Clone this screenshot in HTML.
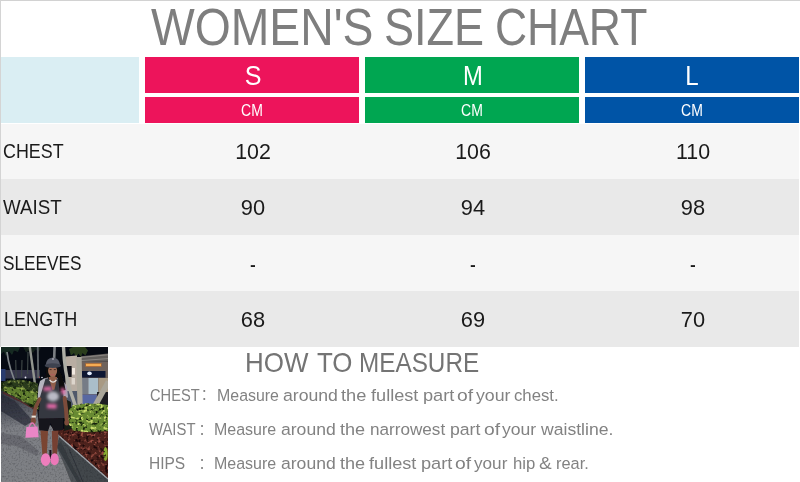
<!DOCTYPE html>
<html lang="en"><head><meta charset="utf-8"><title>Women's Size Chart</title>
<style>
html,body{margin:0;padding:0;}
body{width:800px;height:482px;overflow:hidden;background:#fff;position:relative;font-family:"Liberation Sans", "Noto Sans CJK SC", sans-serif;}
#wrap{position:absolute;left:0;top:0;width:800px;height:482px;overflow:hidden;background:#fff;}
.b{position:absolute;}
.t{position:absolute;white-space:pre;line-height:1;transform-origin:0 0;}
</style></head><body><div id="wrap">
<div class="b" style="left:0px;top:0px;width:800px;height:1px;background:#d2d2d2"></div>
<div class="b" style="left:0px;top:0px;width:1px;height:347px;background:#d4d4d4"></div>
<div class="b" style="left:1px;top:57px;width:138px;height:66px;background:#daeef3"></div>
<div class="b" style="left:145px;top:57px;width:214px;height:36px;background:#ed145b"></div>
<div class="b" style="left:145px;top:97px;width:214px;height:26px;background:#ed145b"></div>
<div class="b" style="left:365px;top:57px;width:214px;height:36px;background:#00a651"></div>
<div class="b" style="left:365px;top:97px;width:214px;height:26px;background:#00a651"></div>
<div class="b" style="left:585px;top:57px;width:214px;height:36px;background:#0054a6"></div>
<div class="b" style="left:585px;top:97px;width:214px;height:26px;background:#0054a6"></div>
<div class="b" style="left:1px;top:124px;width:798px;height:55px;background:#f6f6f6"></div>
<div class="b" style="left:1px;top:179px;width:798px;height:56px;background:#e9e9e9"></div>
<div class="b" style="left:1px;top:235px;width:798px;height:56px;background:#f6f6f6"></div>
<div class="b" style="left:1px;top:291px;width:798px;height:56px;background:#e9e9e9"></div>
<div class="b" style="left:1px;top:346px;width:107px;height:1px;background:#fbfbfb"></div>
<svg class="b" style="left:1px;top:347px" width="107" height="135" viewBox="0 0 107 135">
<defs>
<filter id="bl" x="-5%" y="-5%" width="110%" height="110%"><feGaussianBlur stdDeviation="0.6"/></filter>
<filter id="bl2" x="-30%" y="-30%" width="160%" height="160%"><feGaussianBlur stdDeviation="1.6"/></filter>
<filter id="nd" x="0" y="0" width="100%" height="100%" color-interpolation-filters="sRGB">
<feTurbulence type="fractalNoise" baseFrequency="0.28" numOctaves="2" seed="11"/>
<feColorMatrix type="matrix" values="0 0 0 0 0.07 0 0 0 0 0.12 0 0 0 0 0.04 -5 0 0 0 2.35"/>
<feGaussianBlur stdDeviation="0.4"/>
</filter>
<filter id="nl" x="0" y="0" width="100%" height="100%" color-interpolation-filters="sRGB">
<feTurbulence type="fractalNoise" baseFrequency="0.3" numOctaves="2" seed="23"/>
<feColorMatrix type="matrix" values="0 0 0 0 0.78 0 0 0 0 0.86 0 0 0 0 0.42 5 0 0 0 -2.7"/>
<feGaussianBlur stdDeviation="0.4"/>
</filter>
<filter id="md" x="0" y="0" width="100%" height="100%" color-interpolation-filters="sRGB">
<feTurbulence type="fractalNoise" baseFrequency="0.25" numOctaves="2" seed="5"/>
<feColorMatrix type="matrix" values="0 0 0 0 0.1 0 0 0 0 0.03 0 0 0 0 0.04 -5 0 0 0 2.4"/>
<feGaussianBlur stdDeviation="0.4"/>
</filter>
<filter id="ml" x="0" y="0" width="100%" height="100%" color-interpolation-filters="sRGB">
<feTurbulence type="fractalNoise" baseFrequency="0.3" numOctaves="2" seed="31"/>
<feColorMatrix type="matrix" values="0 0 0 0 0.6 0 0 0 0 0.3 0 0 0 0 0.26 5 0 0 0 -2.75"/>
<feGaussianBlur stdDeviation="0.4"/>
</filter>
<filter id="wn" x="0" y="0" width="100%" height="100%" color-interpolation-filters="sRGB">
<feTurbulence type="fractalNoise" baseFrequency="0.55" numOctaves="2" seed="9"/>
<feColorMatrix type="matrix" values="0 0 0 0 0.1 0 0 0 0 0.1 0 0 0 0 0.12 -2.5 0 0 0 1.3"/>
</filter>
<clipPath id="b1"><path d="M0,35 10,32 22,32.5 37,36 38,63 30,60 18,52.5 5,45.5 0,43.5Z"/></clipPath>
<clipPath id="b2"><path d="M67,76 68,62 72,58 85,56 100,56.5 107,57.5 107,84.5 90,85.5 72,84Z"/></clipPath>
<clipPath id="mu"><path d="M57,83 72,84 90,85.5 107,84.5 107,131 58,88Z"/></clipPath>
<clipPath id="cp"><rect x="0" y="0" width="107" height="135"/></clipPath>
<clipPath id="wk"><path d="M0,43 18,52 34,61 58,88 107,131.5 107,135 0,135Z"/></clipPath>
<linearGradient id="walk" x1="0" y1="0" x2="0.25" y2="1"><stop offset="0" stop-color="#2c2f3a"/><stop offset="0.2" stop-color="#50535c"/><stop offset="0.42" stop-color="#7d7f85"/><stop offset="1" stop-color="#7e8084"/></linearGradient>
</defs>
<g clip-path="url(#cp)">
<rect x="0" y="0" width="107" height="135" fill="#060a13"/>
<g filter="url(#bl)">
<polygon points="0,0 19,0 17,5 13,3.5 11,8 8,4 5,9 3,4.5 0,7" fill="#182a22"/>
<polygon points="22,0 40,0 38,4.5 34.5,2.5 32,6 29,3 25,5.5" fill="#15231c"/>
<polygon points="68,2 72,0 84,0 87,3.5 84.5,8.5 81.5,6 80,10 77.5,6.5 75,10.5 73,6 70,8.5" fill="#2a3e1e"/>
<rect x="3" y="23" width="36" height="8.5" fill="#34364a"/>
<rect x="0" y="22" width="4.5" height="12" fill="#2a3a6e"/>
<circle cx="24.5" cy="30.5" r="0.9" fill="#e8e8f0"/><circle cx="41" cy="30.5" r="0.8" fill="#e0e0ea"/><circle cx="38.3" cy="30.3" r="0.7" fill="#c05050"/>
<path d="M14.7,13L15.2,31M21,13L20.5,30M27,5L26.5,27" stroke="#3c4444" stroke-width="1.2" fill="none"/>
<path d="M6,5Q8,22 16.5,40" stroke="#80868a" stroke-width="1.7" fill="none"/>
<path d="M28.8,0L34,37" stroke="#92968f" stroke-width="2.4" fill="none"/>
<path d="M36.8,0L37.2,31" stroke="#5c6266" stroke-width="1.9" fill="none"/>
<path d="M53.6,0L53.2,11" stroke="#7c8084" stroke-width="2.6" fill="none"/>
<polygon points="64.5,9.5 76,8.5 76,60 64.5,60" fill="#b8ada2"/>
<polygon points="80,9.2 107,6.4 107,14.5 80,15" fill="#625e5c"/>
<path d="M80,10.4L107,7.8M80,13.6L107,11.6" stroke="#8e8a86" stroke-width="0.9" fill="none"/>
<rect x="80" y="14.5" width="27" height="45" fill="#6e625c"/>
<rect x="84.2" y="16" width="16.6" height="4" fill="#b86a2c" opacity="0.7"/>
<rect x="85" y="16.8" width="15" height="2.3" fill="#f4ac52"/>
<rect x="81" y="24" width="23.5" height="6.6" fill="#0a1530"/>
<ellipse cx="88.5" cy="26.4" rx="2.3" ry="1.8" fill="#e4eeff"/>
<rect x="81" y="31" width="6.4" height="16" fill="#767c86"/>
<rect x="87.4" y="31" width="9.8" height="16" fill="#aabeca"/>
<rect x="97.5" y="31" width="9.5" height="14" fill="#a89a84"/>
<rect x="65" y="19" width="5.6" height="11" fill="#0e1018"/>
<rect x="71" y="21" width="3" height="6.6" fill="#f0e8e0"/>
<rect x="70.6" y="31" width="3.4" height="6.5" fill="#ddd5cc"/>
<rect x="64.5" y="44" width="12" height="16" fill="#50586a"/>
<rect x="80.7" y="47.5" width="15" height="11" fill="#5868a2"/>
<rect x="96" y="45" width="11" height="16" fill="#1a1e24"/>
<path d="M62.5,0Q63.5,25 69,43L74.5,59" stroke="#aeaea6" stroke-width="3.4" fill="none"/>
<path d="M78,10L79,59" stroke="#aca89c" stroke-width="5.3" fill="none"/>
<path d="M107.5,34.5L94,59" stroke="#aaa69a" stroke-width="5.6" fill="none"/>
<polygon points="0,43 18,52 34,61 58,88 107,131.5 107,135 0,135" fill="url(#walk)"/>
<polygon points="0,47 14,54 32,74 24,79 0,64" fill="#262a36" opacity="0.7"/>
<polygon points="0,86 20,89 38,104 36,109 15,99 0,97" fill="#4a4c52" opacity="0.4"/>
<polygon points="58,89 107,132 107,135 76,135 63,112 56,100" fill="#42464c"/>
<path d="M68,102L82,135" stroke="#2a2e34" stroke-width="0.8" fill="none"/>
<polygon points="57,82 107,81 107,131 58,88" fill="#4e201c"/>
<ellipse cx="104.5" cy="107" rx="2.2" ry="7" fill="#86aa30"/>
<path d="M58,89L107,132" stroke="#a2a6aa" stroke-width="1.4" fill="none"/>
<polygon points="0,35.5 10,32.5 22,33 37,36.5 38,63 30,60 18,52.5 5,45.5 0,43.5" fill="#2a3b1b"/>
<polygon points="2,40.5 18,40 36,46 36,60 18,51 4,45" fill="#5f7d2e"/>
<path d="M2,45.5L18,53.5L34,62.5" stroke="#562a2a" stroke-width="1.4" fill="none"/>
<polygon points="64,52 70,55 70,82 63,84" fill="#151b13"/>
<polygon points="68,63 72,58.5 85,56.5 100,57 107,58 107,84 90,85 72,83.5 67,75" fill="#678a31"/>
</g>
<g clip-path="url(#b1)"><rect x="0" y="0" width="107" height="135" filter="url(#nd)"/><rect x="0" y="0" width="107" height="135" filter="url(#nl)" opacity="0.5"/></g>
<g clip-path="url(#b2)"><rect x="0" y="0" width="107" height="135" filter="url(#nd)"/><rect x="0" y="0" width="107" height="135" filter="url(#nl)"/></g>
<g clip-path="url(#mu)"><rect x="0" y="0" width="107" height="135" filter="url(#md)"/><rect x="0" y="0" width="107" height="135" filter="url(#ml)"/></g>
<g clip-path="url(#wk)"><rect x="0" y="0" width="107" height="135" filter="url(#wn)" opacity="0.28"/></g>
<g filter="url(#bl)">
<polygon points="55,99 60,95 72,120 80,135 70,135 62,115" fill="#2e3036" opacity="0.6"/>
<path d="M45,21Q44.2,30 43.5,38L58,40Q60,33 58.5,24Q57,15 51.5,15Q46,15 45,21Z" fill="#0c0a0e"/>
<polygon points="43,31.5 47,30.5 45,44 41.6,53.5 36.6,52.3 37.4,40 39,34" fill="#b4b4be"/>
<polygon points="56,31 61,32.5 66,39 67,50.5 62,51 59.5,42" fill="#a6a6b2"/>
<polygon points="36.3,64 62,64 62.3,83 52.5,84 49.6,76 47,84.3 38.3,83.5" fill="#16121a"/>
<polygon points="39.4,83.5 47,84 45.8,107.5 41.4,107.5" fill="#7a4432"/>
<polygon points="50.8,84 57.6,83.5 56,107 51.5,107" fill="#764030"/>
<polygon points="44.5,31.5 58,31.5 62,42 64,71 37.6,71.6 39,50 42,40" fill="#363840"/>
<polygon points="47.6,30 56.2,30 53.5,42.5 51.5,43" fill="#905e4a"/>
<rect x="49.4" y="27.5" width="5" height="5" fill="#905e4a"/>
<path d="M48.6,33Q52,37.2 55.4,33" stroke="#e4e0dc" stroke-width="1.2" fill="none"/>
<path d="M56.4,19Q61,27 63,35L64.5,43 58.5,44.5 57.5,34 55.8,25Z" fill="#0b090d"/>
</g>
<g filter="url(#bl2)" opacity="0.95">
<path d="M42.6,42L50.8,41.5" stroke="#e66aa8" stroke-width="4.2" fill="none"/>
<path d="M61,41L63.2,47.5" stroke="#e66aa8" stroke-width="3.6" fill="none"/>
<ellipse cx="52" cy="49.5" rx="6" ry="5" fill="#c2c2ce"/>
<path d="M46,59L55.5,59.4" stroke="#e86cac" stroke-width="4.6" fill="none"/>
</g>
<g filter="url(#bl)">
<ellipse cx="51.6" cy="23.8" rx="4.5" ry="5.9" fill="#a06c56"/>
<path d="M49.6,27.6L53.4,27.6" stroke="#b05a5e" stroke-width="0.9" fill="none"/>
<path d="M48.6,22.6L50.6,22.6M52.8,22.6L54.8,22.6" stroke="#2a1a18" stroke-width="0.8" fill="none"/>
<path d="M44.6,18.6Q45,11 51.9,10.4Q58.6,11 59.2,18.6Z" fill="#565a68"/>
<circle cx="52" cy="12" r="0.8" fill="#d8d8e0"/>
<ellipse cx="51.9" cy="18.6" rx="8.2" ry="2.3" fill="#3e4250"/>
<path d="M38.6,52L34.6,60.5L32.7,70" stroke="#7c4c3a" stroke-width="3.6" stroke-linecap="round" fill="none"/>
<ellipse cx="32.3" cy="74" rx="2.6" ry="3.4" fill="#7c4c3a"/>
<path d="M30.6,69.6L34.8,69.6" stroke="#ece6de" stroke-width="2" fill="none"/>
<path d="M63.6,51L65,62L65.6,72" stroke="#7c4c3a" stroke-width="4" stroke-linecap="round" fill="none"/>
<ellipse cx="65.7" cy="75.5" rx="2.4" ry="3" fill="#7c4c3a"/>
<path d="M28,80.5Q31.2,71.5 34.6,80.5" stroke="#e078b8" stroke-width="1.3" fill="none"/>
<polygon points="25.4,80 36.6,79.5 37.6,90.2 24.4,90.7" fill="#ea86c6"/>
<rect x="48.4" y="103" width="2" height="9" fill="#1a1018"/>
<ellipse cx="44.6" cy="112.6" rx="4.8" ry="6.3" fill="#ee7ebc"/>
<ellipse cx="53.6" cy="112.2" rx="4.2" ry="6" fill="#ec78b8"/>
</g>
</g>
</svg>

<div class="t" id="t1" style="left:151.14px;top:2.91px;font-size:50.9px;color:#7e7e7e;transform:scaleX(0.9104);">WOMEN'S</div>
<div class="t" id="t2" style="left:384.13px;top:2.91px;font-size:50.9px;color:#7e7e7e;transform:scaleX(0.8849);">SIZE</div>
<div class="t" id="t3" style="left:495.02px;top:2.91px;font-size:50.9px;color:#7e7e7e;transform:scaleX(0.8736);">CHART</div>
<div class="t" id="hS" style="left:193.30px;width:120px;text-align:center;transform-origin:50% 0;top:61.90px;font-size:28px;color:#fff;transform:scaleX(0.8960);">S</div>
<div class="t" id="hM" style="left:412.95px;width:120px;text-align:center;transform-origin:50% 0;top:61.90px;font-size:28px;color:#fff;transform:scaleX(0.8500);">M</div>
<div class="t" id="hL" style="left:631.50px;width:120px;text-align:center;transform-origin:50% 0;top:61.90px;font-size:28px;color:#fff;transform:scaleX(0.8600);">L</div>
<div class="t" id="cm0" style="left:192.00px;width:120px;text-align:center;transform-origin:50% 0;top:102.94px;font-size:15.9px;color:#fff;transform:scaleX(0.8810);">CM</div>
<div class="t" id="cm1" style="left:412.00px;width:120px;text-align:center;transform-origin:50% 0;top:102.94px;font-size:15.9px;color:#fff;transform:scaleX(0.8810);">CM</div>
<div class="t" id="cm2" style="left:632.00px;width:120px;text-align:center;transform-origin:50% 0;top:102.94px;font-size:15.9px;color:#fff;transform:scaleX(0.8810);">CM</div>
<div class="t" id="r1" style="left:3.03px;top:140.79px;font-size:20.1px;color:#1a1a1a;transform:scaleX(0.8896);">CHEST</div>
<div class="t" id="r2" style="left:3.36px;top:196.79px;font-size:20.1px;color:#1a1a1a;transform:scaleX(0.9343);">WAIST</div>
<div class="t" id="r3" style="left:2.61px;top:252.79px;font-size:20.1px;color:#1a1a1a;transform:scaleX(0.8574);">SLEEVES</div>
<div class="t" id="r4" style="left:4.16px;top:308.79px;font-size:20.1px;color:#1a1a1a;transform:scaleX(0.8987);">LENGTH</div>
<div class="t" id="n00" style="left:193.20px;width:120px;text-align:center;transform-origin:50% 0;top:141.15px;font-size:22.4px;color:#1a1a1a;transform:scaleX(0.9550);">102</div>
<div class="t" id="n01" style="left:413.20px;width:120px;text-align:center;transform-origin:50% 0;top:141.15px;font-size:22.4px;color:#1a1a1a;transform:scaleX(0.9550);">106</div>
<div class="t" id="n02" style="left:633.20px;width:120px;text-align:center;transform-origin:50% 0;top:141.15px;font-size:22.4px;color:#1a1a1a;transform:scaleX(0.9550);">110</div>
<div class="t" id="n10" style="left:193.20px;width:120px;text-align:center;transform-origin:50% 0;top:197.15px;font-size:22.4px;color:#1a1a1a;transform:scaleX(0.9750);">90</div>
<div class="t" id="n11" style="left:413.20px;width:120px;text-align:center;transform-origin:50% 0;top:197.15px;font-size:22.4px;color:#1a1a1a;transform:scaleX(0.9750);">94</div>
<div class="t" id="n12" style="left:633.20px;width:120px;text-align:center;transform-origin:50% 0;top:197.15px;font-size:22.4px;color:#1a1a1a;transform:scaleX(0.9750);">98</div>
<div class="t" id="n20" style="left:193.20px;width:120px;text-align:center;transform-origin:50% 0;top:252.85px;font-size:23.1px;color:#1a1a1a;transform:scaleX(0.7500);">-</div>
<div class="t" id="n21" style="left:413.20px;width:120px;text-align:center;transform-origin:50% 0;top:252.85px;font-size:23.1px;color:#1a1a1a;transform:scaleX(0.7500);">-</div>
<div class="t" id="n22" style="left:633.20px;width:120px;text-align:center;transform-origin:50% 0;top:252.85px;font-size:23.1px;color:#1a1a1a;transform:scaleX(0.7500);">-</div>
<div class="t" id="n30" style="left:193.20px;width:120px;text-align:center;transform-origin:50% 0;top:309.15px;font-size:22.4px;color:#1a1a1a;transform:scaleX(0.9750);">68</div>
<div class="t" id="n31" style="left:413.20px;width:120px;text-align:center;transform-origin:50% 0;top:309.15px;font-size:22.4px;color:#1a1a1a;transform:scaleX(0.9750);">69</div>
<div class="t" id="n32" style="left:633.20px;width:120px;text-align:center;transform-origin:50% 0;top:309.15px;font-size:22.4px;color:#1a1a1a;transform:scaleX(0.9750);">70</div>
<div class="t" id="h1" style="left:245.38px;top:347.64px;font-size:28.3px;color:#747474;transform:scaleX(0.9174);">HOW</div>
<div class="t" id="h2" style="left:317.21px;top:347.64px;font-size:28.3px;color:#747474;transform:scaleX(0.9150);">TO</div>
<div class="t" id="h3" style="left:359.01px;top:347.64px;font-size:28.3px;color:#747474;transform:scaleX(0.8585);">MEASURE</div>
<div class="ln">
<span class="t" id="l1a" style="left:149.60px;top:387.14px;font-size:17.2px;color:#828282;transform:scaleX(0.8526);">CHEST</span>
<span class="t" id="l1b" style="left:200.98px;top:388.49px;font-size:13.2px;color:#828282;transform:scaleX(1.0000);">：</span>
<span class="t" id="l1w0" style="left:216.65px;top:387.14px;font-size:17.2px;color:#828282;transform:scaleX(0.9267);">Measure</span>
<span class="t" id="l1w1" style="left:283.31px;top:387.14px;font-size:17.2px;color:#828282;transform:scaleX(1.0265);">around</span>
<span class="t" id="l1w2" style="left:341.36px;top:387.14px;font-size:17.2px;color:#828282;transform:scaleX(1.0611);">the</span>
<span class="t" id="l1w3" style="left:371.18px;top:387.14px;font-size:17.2px;color:#828282;transform:scaleX(1.0558);">fullest</span>
<span class="t" id="l1w4" style="left:422.89px;top:387.14px;font-size:17.2px;color:#828282;transform:scaleX(1.0589);">part</span>
<span class="t" id="l1w5" style="left:457.45px;top:387.14px;font-size:17.2px;color:#828282;transform:scaleX(1.1200);">of</span>
<span class="t" id="l1w6" style="left:475.66px;top:387.14px;font-size:17.2px;color:#828282;transform:scaleX(1.0318);">your</span>
<span class="t" id="l1w7" style="left:513.50px;top:387.14px;font-size:17.2px;color:#828282;transform:scaleX(0.9741);">chest.</span>
</div>
<div class="ln">
<span class="t" id="l2a" style="left:149.28px;top:421.04px;font-size:17.2px;color:#828282;transform:scaleX(0.8640);">WAIST</span>
<span class="t" id="l2b" style="left:198.81px;top:422.75px;font-size:13.2px;color:#828282;transform:scaleX(1.0000);">：</span>
<span class="t" id="l2w0" style="left:214.45px;top:421.04px;font-size:17.2px;color:#828282;transform:scaleX(0.9305);">Measure</span>
<span class="t" id="l2w1" style="left:281.11px;top:421.04px;font-size:17.2px;color:#828282;transform:scaleX(1.0215);">around</span>
<span class="t" id="l2w2" style="left:340.20px;top:421.04px;font-size:17.2px;color:#828282;transform:scaleX(1.0515);">the</span>
<span class="t" id="l2w3" style="left:369.76px;top:421.04px;font-size:17.2px;color:#828282;transform:scaleX(0.9959);">narrowest</span>
<span class="t" id="l2w4" style="left:450.13px;top:421.04px;font-size:17.2px;color:#828282;transform:scaleX(1.0263);">part</span>
<span class="t" id="l2w5" style="left:484.04px;top:421.04px;font-size:17.2px;color:#828282;transform:scaleX(1.1200);">of</span>
<span class="t" id="l2w6" style="left:502.10px;top:421.04px;font-size:17.2px;color:#828282;transform:scaleX(1.0230);">your</span>
<span class="t" id="l2w7" style="left:540.71px;top:421.04px;font-size:17.2px;color:#828282;transform:scaleX(1.0239);">waistline.</span>
</div>
<div class="ln">
<span class="t" id="l3a" style="left:149.44px;top:455.04px;font-size:17.2px;color:#828282;transform:scaleX(0.9020);">HIPS</span>
<span class="t" id="l3b" style="left:198.81px;top:456.75px;font-size:13.2px;color:#828282;transform:scaleX(1.0000);">：</span>
<span class="t" id="l3w0" style="left:214.45px;top:455.04px;font-size:17.2px;color:#828282;transform:scaleX(0.9305);">Measure</span>
<span class="t" id="l3w1" style="left:281.11px;top:455.04px;font-size:17.2px;color:#828282;transform:scaleX(1.0215);">around</span>
<span class="t" id="l3w2" style="left:340.20px;top:455.04px;font-size:17.2px;color:#828282;transform:scaleX(1.0515);">the</span>
<span class="t" id="l3w3" style="left:369.18px;top:455.04px;font-size:17.2px;color:#828282;transform:scaleX(1.0558);">fullest</span>
<span class="t" id="l3w4" style="left:420.89px;top:455.04px;font-size:17.2px;color:#828282;transform:scaleX(1.0589);">part</span>
<span class="t" id="l3w5" style="left:455.34px;top:455.04px;font-size:17.2px;color:#828282;transform:scaleX(1.1200);">of</span>
<span class="t" id="l3w6" style="left:473.72px;top:455.04px;font-size:17.2px;color:#828282;transform:scaleX(0.9975);">your</span>
<span class="t" id="l3w7" style="left:513.00px;top:455.04px;font-size:17.2px;color:#828282;transform:scaleX(0.9706);">hip</span>
<span class="t" id="l3w8" style="left:539.10px;top:455.04px;font-size:17.2px;color:#828282;transform:scaleX(1.1080);">&amp;</span>
<span class="t" id="l3w9" style="left:556.02px;top:455.04px;font-size:17.2px;color:#828282;transform:scaleX(0.9521);">rear.</span>
</div>
</div></body></html>
